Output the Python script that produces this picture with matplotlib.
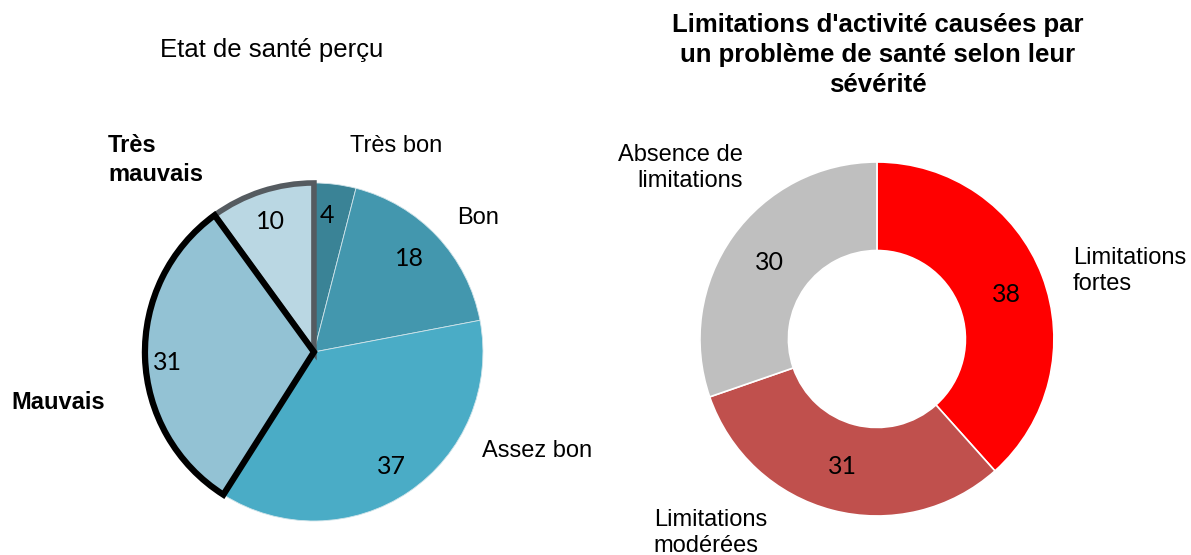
import matplotlib.pyplot as plt

# Etat de santé perçu
sante_labels = ["Très bon", "Bon", "Assez bon", "Mauvais", "Très\nmauvais"]
sante_values = [4, 18, 37, 31, 10]
sante_colors = ["#3A8396", "#4397AE", "#4AACC6", "#93C2D4", "#BAD7E3"]

# Limitations d'activité
limit_labels = ["Limitations\nfortes", "Limitations\nmodérées", "Absence de\nlimitations"]
limit_values = [38, 31, 30]
limit_colors = ["#FF0000", "#C0504D", "#BFBFBF"]

plt.rcParams['font.family'] = ['Liberation Sans', 'DejaVu Sans']
num_font = ['Lato', 'DejaVu Sans']
lab_fs = 17
num_fs = 18

fig = plt.figure(figsize=(11.91, 5.55), dpi=100)

# ---- camembert de gauche ----
ax1 = fig.add_axes([0.1217, 0.0613, 0.2838, 0.609])
wedges, _ = ax1.pie(sante_values, colors=sante_colors, startangle=90, counterclock=False,
                    radius=1, wedgeprops=dict(edgecolor="#D0E4EA", linewidth=0.6))
wedges[4].set_edgecolor("#555B60")
wedges[4].set_linewidth(4)
wedges[3].set_edgecolor("black")
wedges[3].set_linewidth(4.5)
wedges[3].set_zorder(3)
ax1.set_xlim(-1, 1)
ax1.set_ylim(-1, 1)
ax1.set_aspect('equal')
ax1.axis('off')

num_pos1 = [(0.077, 0.81), (0.568, 0.556), (0.46, -0.675), (-0.864, -0.065), (-0.26, 0.77)]
for v, (x, y) in zip(sante_values, num_pos1):
    ax1.text(x, y, str(v), ha='center', va='center', fontsize=num_fs, family=num_font, zorder=5)

ax1.text(0.485, 1.219, sante_labels[0], ha='center', va='center', fontsize=lab_fs)
ax1.text(0.97, 0.79, sante_labels[1], ha='center', va='center', fontsize=lab_fs)
ax1.text(1.32, -0.586, sante_labels[2], ha='center', va='center', fontsize=lab_fs)
ax1.text(-1.512, -0.30, sante_labels[3], ha='center', va='center', fontsize=lab_fs, fontweight='bold')
ax1.text(-1.219, 1.136, sante_labels[4], ha='left', va='center', fontsize=lab_fs,
         fontweight='bold', linespacing=1.35)

fig.text(272 / 1191, 1 - 50 / 555, "Etat de santé perçu", ha='center', va='center', fontsize=18.5)

# ---- anneau de droite ----
ax2 = fig.add_axes([0.5877, 0.0703, 0.2972, 0.6378])
ax2.pie(limit_values, colors=limit_colors, startangle=90, counterclock=False,
        radius=1, wedgeprops=dict(width=0.5, edgecolor="white", linewidth=1.2))
ax2.set_xlim(-1, 1)
ax2.set_ylim(-1, 1)
ax2.set_aspect('equal')
ax2.axis('off')

num_pos2 = [(0.734, 0.249), (-0.192, -0.723), (-0.605, 0.435)]
for v, (x, y) in zip(limit_values, num_pos2):
    ax2.text(x, y, str(v), ha='center', va='center', fontsize=num_fs, family=num_font)

ax2.text(1.107, 0.384, limit_labels[0], ha='left', va='center', fontsize=lab_fs, linespacing=1.25)
ax2.text(-1.26, -1.096, limit_labels[1], ha='left', va='center', fontsize=lab_fs, linespacing=1.25)
ax2.text(-0.757, 0.966, limit_labels[2], ha='right', va='center', fontsize=lab_fs, linespacing=1.25)

fig.text(878 / 1191, 1 - 55 / 555,
         "Limitations d'activité causées par\nun problème de santé selon leur\nsévérité",
         ha='center', va='center', fontsize=18.5, fontweight='bold', linespacing=1.33)

plt.savefig('out.png', dpi=100)
